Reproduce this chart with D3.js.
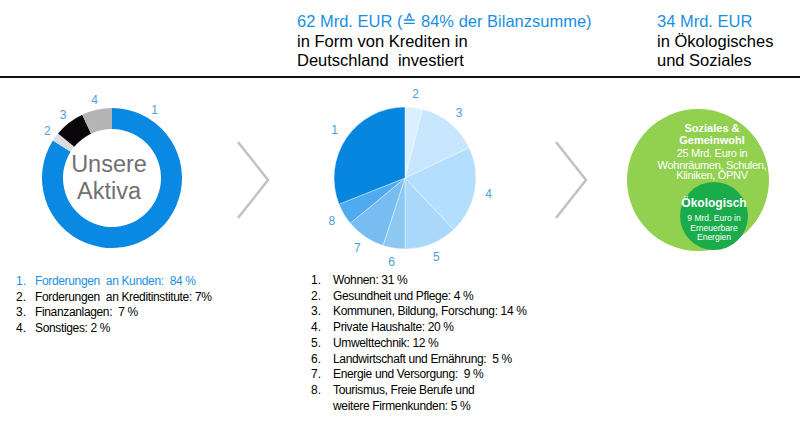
<!DOCTYPE html>
<html><head><meta charset="utf-8">
<script src="https://cdn.jsdelivr.net/npm/d3@7"></script>
<style>body{margin:0;background:#fff}svg{display:block;font-family:"Liberation Sans",Arial,sans-serif}</style>
</head><body>
<svg id="c" width="800" height="424"></svg>
<script>
// ---- data ----
const donutLabels = ["1","2","3","4"];
const donutValues = [84, 2, 7, 7];           // slice sizes as drawn
const donutColors = ["#0a89e2","#d9dce1","#0a0508","#b4b4b4"];
const donutLegend = ["Forderungen  an Kunden:  84 %","Forderungen  an Kreditinstitute: 7%","Finanzanlagen:  7 %","Sonstiges: 2 %"];

const pieLabels = ["2","3","4","5","6","7","8","1"];
const pieValues = [4, 14, 20, 12, 5, 9, 5, 31];
const pieColors = ["#dcefff","#c8e6fd","#b3defd","#a9d8fb","#8cc8f0","#78bdf2","#4faaf0","#0786e0"];
const pieLegend = ["Wohnen: 31 %","Gesundheit und Pflege: 4 %","Kommunen, Bildung, Forschung: 14 %","Private Haushalte: 20 %","Umwelttechnik: 12 %","Landwirtschaft und Ernährung:  5 %","Energie und Versorgung:  9 %","Tourismus, Freie Berufe und\nweitere Firmenkunden: 5 %"];

const header1 = ["62 Mrd. EUR (\u2259 84% der Bilanzsumme)","in Form von Krediten in","Deutschland  investiert"];
const header2 = ["34 Mrd. EUR","in Ökologisches","und Soziales"];
const bigCircleText = [["Soziales &",true],["Gemeinwohl",true],["25 Mrd. Euro in",false],["Wohnräumen, Schulen,",false],["Kliniken, ÖPNV",false]];
const smallCircleText = [["Ökologisch",true],["9 Mrd. Euro in",false],["Erneuerbare",false],["Energien",false]];

const svg = d3.select("#c");
const blue = "#1a8fe2";

// header
svg.append("line").attr("x1",0).attr("x2",800).attr("y1",77).attr("y2",77).attr("stroke","#111").attr("stroke-width",2);
function header(lines,x){
  lines.forEach((t,i)=>svg.append("text").attr("x",x).attr("y",27+i*19.5).attr("font-size",16.5)
    .attr("fill", i===0?blue:"#000").attr("xml:space","preserve").text(t));
}
header(header1,297);
header(header2,657);

// donut
const dg = svg.append("g").attr("transform","translate(112,178)");
const dpie = d3.pie().sort(null).value(d=>d);
const darc = d3.arc().innerRadius(49).outerRadius(70);
const dArcs = dpie(donutValues);
dg.selectAll("path").data(dArcs).join("path").attr("d",darc).attr("fill",(d,i)=>donutColors[i]);
dg.selectAll("text.l").data(dArcs).join("text").attr("class","l")
  .each(function(d,i){
    const a = (d.endAngle-d.startAngle)>Math.PI ? d.startAngle+0.56 : (d.startAngle+d.endAngle)/2;
    const r = 80;
    d3.select(this).attr("x",r*Math.sin(a)).attr("y",-r*Math.cos(a)+4);
  })
  .attr("text-anchor","middle").attr("font-size",12).attr("fill","#4a9fd8").text((d,i)=>donutLabels[i]);
dg.append("text").attr("x",-3).attr("y",-6).attr("text-anchor","middle").attr("font-size",23.5).attr("fill","#707070").text("Unsere");
dg.append("text").attr("x",-3).attr("y",21).attr("text-anchor","middle").attr("font-size",23.5).attr("fill","#707070").text("Aktiva");

// donut legend
donutLegend.forEach((t,i)=>{
  const y = 285+i*15.7;
  const c = i===0?blue:"#000";
  svg.append("text").attr("x",16).attr("y",y).attr("font-size",12).attr("fill",c).text((i+1)+".");
  svg.append("text").attr("x",35).attr("y",y).attr("font-size",12).attr("letter-spacing",-0.35).attr("fill",c).attr("xml:space","preserve").text(t);
});

// chevrons
[[238,268],[556,586]].forEach(([x0,x1])=>{
  svg.append("path").attr("d",`M${x0},142 L${x1},180 L${x0},218`).attr("fill","none").attr("stroke","#c2c2c2").attr("stroke-width",2.5);
});

// pie
const pg = svg.append("g").attr("transform","translate(405,178)");
const ppie = d3.pie().sort(null).value(d=>d);
const parc = d3.arc().innerRadius(0).outerRadius(71);
const pArcs = ppie(pieValues);
pg.selectAll("path").data(pArcs).join("path").attr("d",parc).attr("fill",(d,i)=>pieColors[i]).attr("stroke","#fff").attr("stroke-width",0.4);
const larc = d3.arc().innerRadius(85).outerRadius(85);
pg.selectAll("text").data(pArcs).join("text")
  .attr("transform",d=>{const c=larc.centroid(d);return `translate(${c[0]},${c[1]+4})`;})
  .attr("text-anchor","middle").attr("font-size",12).attr("fill","#4a9fd8").text((d,i)=>pieLabels[i]);

// pie legend
pieLegend.forEach((t,i)=>{
  const parts = t.split("\n");
  svg.append("text").attr("x",311).attr("y",284+i*15.7).attr("font-size",12).attr("fill","#000").text((i+1)+".");
  parts.forEach((p,j)=>svg.append("text").attr("x",333).attr("y",284+(i+j)*15.7).attr("font-size",12)
    .attr("letter-spacing",-0.35).attr("fill","#000").attr("xml:space","preserve").text(p));
});

// green circles
svg.append("circle").attr("cx",698).attr("cy",180).attr("r",71).attr("fill","#92d050");
svg.append("circle").attr("cx",714).attr("cy",216).attr("r",34).attr("fill","#1aab4b");
bigCircleText.forEach(([t,b],i)=>{
  const y = [132,144,157,168.5,179][i];
  svg.append("text").attr("x",712).attr("y",y).attr("text-anchor","middle").attr("font-size",11)
    .attr("font-weight",b?"bold":"normal").attr("letter-spacing",b?0:-0.3).attr("fill","#fff").text(t);
});
smallCircleText.forEach(([t,b],i)=>{
  const y = [207,221,231,240][i];
  svg.append("text").attr("x",714).attr("y",y).attr("text-anchor","middle").attr("font-size",b?12:8.5)
    .attr("font-weight",b?"bold":"normal").attr("fill","#fff").text(t);
});
</script>
</body></html>
